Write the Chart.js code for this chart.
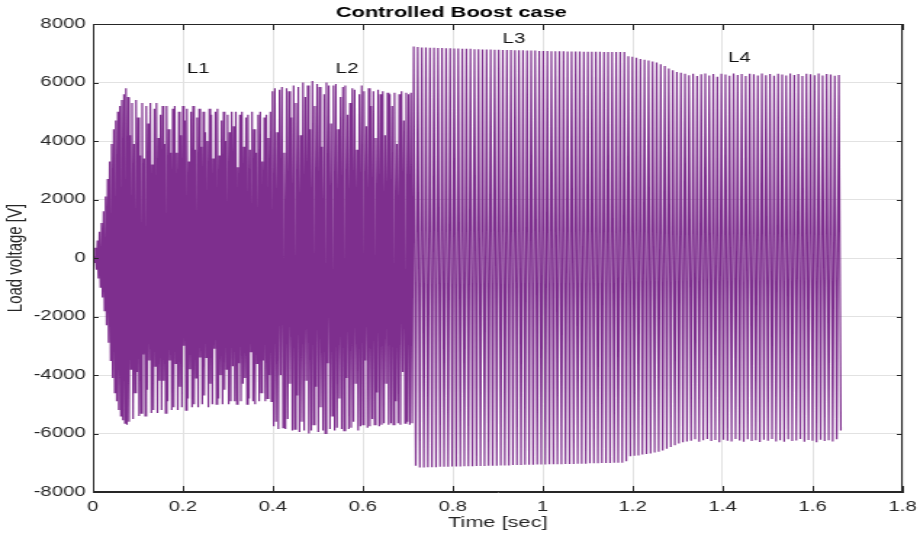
<!DOCTYPE html>
<html>
<head>
<meta charset="utf-8">
<title>Controlled Boost case</title>
<script src="https://cdn.jsdelivr.net/npm/chart.js@4/dist/chart.umd.min.js"></script>
<style>
  html, body { margin: 0; padding: 0; background: #fff; overflow: hidden; }
  /* figure is laid out 634 wide and stretched to 920 like the exported plot */
  #wrap { position: absolute; left: 0; top: 0; width: 634px; height: 536px;
          transform: scaleX(1.4511); transform-origin: 0 0; }
</style>
</head>
<body>
<div id="wrap"><canvas id="voltageChart"></canvas></div>
<script>
// each load step: time span [s] and the positive / negative peak of every
// switching cycle in it [V]

// L1 : start-up transient
const l1Span = [0, 0.398];
const l1Upper = [100, 350, 600, 900, 1200, 1600, 2100, 2700, 3300, 3900,
                 4400, 4700, 5000, 5200, 5400, 5600, 5800,
                 5500, 4200, 5300, 3900, 5400, 4800, 3500, 5300, 3400, 5200,
                 4600, 5300, 3200, 5100, 5300, 4100, 4900, 5200, 3900, 5200,
                 4400, 3600, 5100, 5200, 3600, 5000, 4200, 5200, 4700, 5100,
                 3300, 5000, 5200, 3700, 4800, 5100, 3800, 5000, 4300, 4000,
                 5100, 4900, 3400, 5000, 5100, 3500, 4700, 5000, 4000, 4900,
                 4300, 5000, 4500, 5000, 3100, 4900, 5000, 3800, 4800, 4900,
                 3700, 5000, 4400, 3600, 4900, 5000, 3300, 4800, 4900, 4100,
                 5000];
const l1Lower = [-150, -400, -700, -1000, -1350, -1800, -2300, -2900, -3500, -4100,
                 -4600, -4900, -5200, -5400, -5550, -5650, -5700,
                 -5600, -3800, -5500, -4600, -3900, -5400, -5300, -3300, -5400, -4500,
                 -3500, -5300, -5200, -3700, -5300, -4200, -5200, -4200, -5300, -4900,
                 -3500, -5200, -5100, -3600, -5200, -4400, -5100, -3000, -5200, -4800,
                 -3800, -5100, -5000, -4100, -5100, -3400, -5000, -4700, -3400, -5100,
                 -4300, -5000, -3100, -5000, -4800, -4000, -5000, -4500, -3800, -5000,
                 -4900, -3700, -4900, -5000, -3600, -4900, -4300, -4100, -5000, -4800,
                 -3200, -4900, -5000, -3600, -4900, -4600, -3500, -4900, -4800, -4000,
                 -4900];

// L2
const l2Span = [0.398, 0.711];
const l2Upper = [5700, 5800, 4300, 5750, 5850, 3600, 5800, 5700, 4800, 5900,
                 5300, 5850, 4200, 6000, 5500, 5900, 4400, 6050, 5200, 5950,
                 5850, 3800, 5600, 6000, 5900, 4600, 5900, 5950, 4400, 5500,
                 5850, 5900, 4900, 5300, 5800, 5750, 3700, 5600, 5900, 5700,
                 4500, 5800, 5200, 5700, 4100, 5750, 5600, 5700, 4200, 5650,
                 5600, 5200, 5650, 3900, 5600, 5700, 4700, 5650, 5600, 5650];
const l2Lower = [-5750, -5600, -5850, -4000, -5800, -5850, -5500, -4300, -5900, -5850,
                 -4700, -5950, -5600, -5900, -4200, -6000, -5900, -5700, -4400, -5950,
                 -5100, -5900, -6000, -3600, -5850, -5400, -5900, -5800, -4800, -5850,
                 -5900, -4100, -5850, -5800, -5600, -4300, -5900, -5750, -5700, -3500,
                 -5800, -5750, -5500, -5700, -4600, -5750, -5700, -5650, -4300, -5700,
                 -5650, -5700, -4900, -5650, -5700, -3900, -5650, -5600, -5700, -5650];

// L3
const l3Span = [0.711, 1.179];
const l3Upper = [7230, 7210, 7200, 7200, 7190, 7190, 7180, 7180, 7170, 7170,
                 7160, 7160, 7150, 7150, 7150, 7140, 7140, 7130, 7130, 7130,
                 7120, 7120, 7110, 7110, 7110, 7100, 7100, 7100, 7090, 7090,
                 7090, 7080, 7080, 7080, 7070, 7070, 7070, 7070, 7060, 7060,
                 7060, 7060, 7050, 7050, 7050, 7050, 7050, 7040, 7040, 7040,
                 7040, 7040];
const l3Lower = [-7100, -7160, -7160, -7150, -7150, -7150, -7140, -7140, -7140, -7130,
                 -7130, -7130, -7120, -7120, -7120, -7110, -7110, -7110, -7100, -7100,
                 -7100, -7090, -7090, -7090, -7080, -7080, -7080, -7070, -7070, -7070,
                 -7060, -7060, -7060, -7050, -7050, -7050, -7050, -7040, -7040, -7040,
                 -7030, -7030, -7030, -7020, -7020, -7020, -7010, -7010, -7010, -7000,
                 -7000, -7000];

// L4
const l4Span = [1.179, 1.665];
const l4Upper = [7040, 6900, 6880, 6850, 6800, 6780, 6750, 6720, 6680, 6620,
                 6560, 6480, 6420, 6360, 6330, 6300, 6250, 6300, 6220, 6280,
                 6310, 6240, 6290, 6200, 6300, 6270, 6230, 6310, 6260, 6290,
                 6220, 6300, 6280, 6240, 6310, 6250, 6290, 6230, 6300, 6270,
                 6240, 6310, 6260, 6290, 6220, 6300, 6280, 6250, 6310, 6240,
                 6290, 6270, 6230, 6260];
const l4Lower = [-6950, -6780, -6760, -6750, -6720, -6700, -6680, -6650, -6620, -6580,
                 -6520, -6460, -6400, -6340, -6300, -6270, -6250, -6200, -6280, -6230,
                 -6190, -6260, -6220, -6300, -6210, -6250, -6270, -6190, -6240, -6280,
                 -6200, -6260, -6230, -6290, -6210, -6250, -6190, -6270, -6230, -6280,
                 -6200, -6260, -6240, -6190, -6280, -6220, -6250, -6300, -6210, -6260,
                 -6230, -6270, -6200, -5900];

const xTicks = [0, 0.2, 0.4, 0.6, 0.8, 1, 1.2, 1.4, 1.6, 1.8];
const yTicks = [-8000, -6000, -4000, -2000, 0, 2000, 4000, 6000, 8000];

const loadTags = ['L1', 'L2', 'L3', 'L4'];
const tagTime = [0.234, 0.565, 0.936, 1.437];
const tagVolt = [6460, 6460, 7490, 6840];

// peaks of each segment sit a quarter and three quarters into their cycle
const trace = [{ x: 0, y: 0 }];
[[l1Span, l1Upper, l1Lower], [l2Span, l2Upper, l2Lower],
 [l3Span, l3Upper, l3Lower], [l4Span, l4Upper, l4Lower]].forEach(([span, hi, lo]) => {
    const period = (span[1] - span[0]) / hi.length;
    hi.forEach((v, k) => {
        const t = span[0] + k * period;
        trace.push({ x: t + period / 4, y: v });
        trace.push({ x: t + 3 * period / 4, y: lo[k] });
    });
});

const axisColor = '#262626';
const fontFamily = "'Liberation Sans', Arial, Helvetica, sans-serif";

// box round the axes with inward ticks, and the load labels
const boxPlugin = {
    id: 'boxPlugin',
    afterDatasetsDraw(chart) {
        const { ctx, chartArea: a, scales } = chart;
        ctx.save();
        ctx.strokeStyle = axisColor;
        ctx.lineWidth = 1;
        ctx.strokeRect(a.left + 0.5, a.top + 0.5, a.right - a.left - 1, a.bottom - a.top - 1);
        ctx.beginPath();
        xTicks.forEach(t => {
            const px = Math.round(scales.x.getPixelForValue(t)) + 0.5;
            ctx.moveTo(px, a.bottom); ctx.lineTo(px, a.bottom - 6);
            ctx.moveTo(px, a.top); ctx.lineTo(px, a.top + 6);
        });
        yTicks.forEach(v => {
            const py = Math.round(scales.y.getPixelForValue(v)) + 0.5;
            ctx.moveTo(a.left, py); ctx.lineTo(a.left + 4, py);
            ctx.moveTo(a.right, py); ctx.lineTo(a.right - 4, py);
        });
        ctx.stroke();

        ctx.fillStyle = '#111';
        ctx.font = '14px ' + fontFamily;
        ctx.textAlign = 'center';
        ctx.textBaseline = 'middle';
        loadTags.forEach((tag, i) => {
            ctx.fillText(tag, scales.x.getPixelForValue(tagTime[i]), scales.y.getPixelForValue(tagVolt[i]));
        });
        ctx.restore();
    }
};

Chart.defaults.font.family = fontFamily;
Chart.defaults.color = axisColor;

new Chart(document.getElementById('voltageChart').getContext('2d'), {
    type: 'line',
    data: {
        datasets: [{
            label: 'Load voltage',
            data: trace,
            borderColor: 'rgb(126, 47, 142)',
            borderWidth: 1.2,
            pointRadius: 0,
            tension: 0,
            fill: false
        }]
    },
    options: {
        responsive: true,
        maintainAspectRatio: false,
        animation: false,
        events: [],
        layout: { padding: { left: 0, right: 12, top: 0, bottom: 0 } },
        plugins: {
            legend: { display: false },
            tooltip: { enabled: false },
            title: {
                display: true,
                text: 'Controlled Boost case',
                color: '#000',
                font: { size: 15, weight: 'bold' },
                padding: { top: 4, bottom: 2 }
            }
        },
        scales: {
            x: {
                type: 'linear',
                min: 0,
                max: 1.8,
                afterBuildTicks: s => { s.ticks = xTicks.map(v => ({ value: v })); },
                afterFit: s => { s.height = 44; s.paddingLeft = 0; s.paddingRight = 0; },
                ticks: {
                    padding: 7,
                    maxRotation: 0,
                    autoSkip: false,
                    font: { size: 14 },
                    callback: v => String(+v.toFixed(1))
                },
                grid: { color: '#e2e2e2', drawTicks: false },
                border: { color: axisColor },
                title: {
                    display: true,
                    text: 'Time [sec]',
                    font: { size: 15 },
                    padding: { top: 0, bottom: 4 }
                }
            },
            y: {
                min: -8000,
                max: 8000,
                afterBuildTicks: s => { s.ticks = yTicks.map(v => ({ value: v })); },
                afterFit: s => { s.width = 64; s.paddingTop = 0; s.paddingBottom = 0; },
                ticks: {
                    padding: 5,
                    font: { size: 14 },
                    callback: v => String(v)
                },
                grid: { color: '#e2e2e2', drawTicks: false },
                border: { color: axisColor },
                title: {
                    display: true,
                    text: 'Load voltage [V]',
                    font: { size: 15 },
                    padding: { top: 2, bottom: 0 }
                }
            }
        }
    },
    plugins: [boxPlugin]
});
</script>
</body>
</html>
